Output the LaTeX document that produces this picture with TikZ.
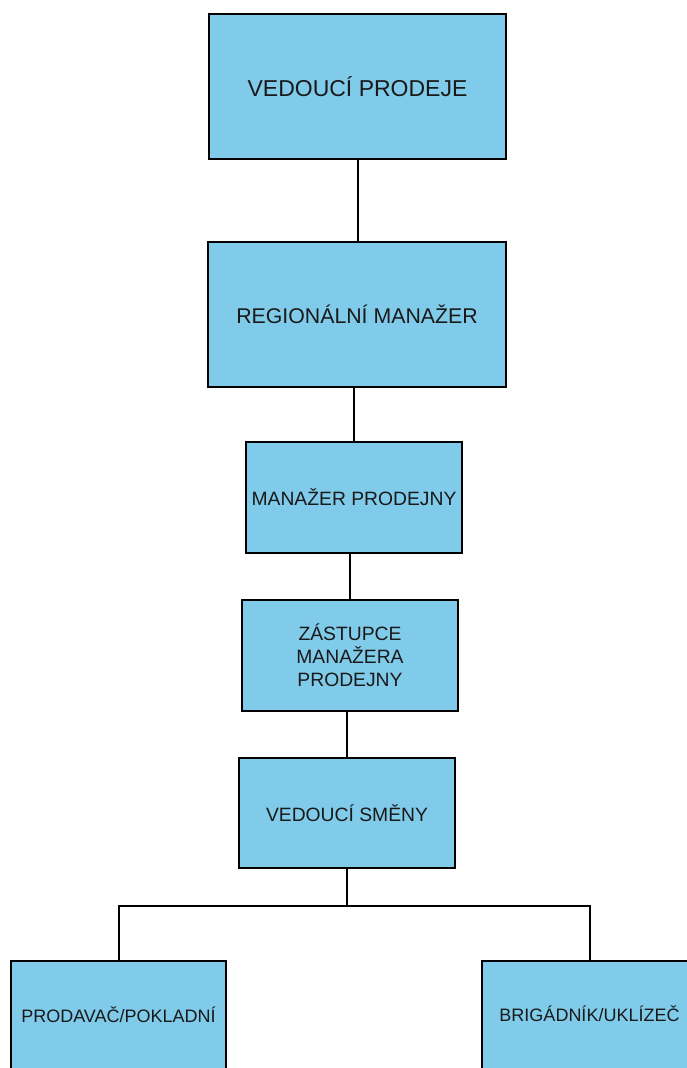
\documentclass[tikz,border=0pt]{standalone}
\usepackage{fontspec}
\setmainfont{Liberation Sans}
\definecolor{boxblue}{HTML}{80CBEA}
\begin{document}
\begin{tikzpicture}[x=1pt,y=-1pt,
  role/.style={draw=black, line width=2.4pt, fill=boxblue, inner sep=0pt,
    align=center, font=\fontsize{19.3}{23}\selectfont, text=black!90},
  label/.style={font=\fontsize{18}{21}\selectfont, text=black!90},
  link/.style={draw=black, line width=2pt}]
\useasboundingbox (0,0) rectangle (687,1068);
\clip (0,0) rectangle (687,1068);
% boxes, placed by their corners
\node[role, minimum width=297pt, minimum height=145pt, font=\fontsize{23}{27}\selectfont]
  (vp) at (357.5,86.5) {VEDOUCÍ PRODEJE};
\node[role, minimum width=298pt, minimum height=145pt, font=\fontsize{21.3}{25}\selectfont]
  (rm) at (357,314.5) {REGIONÁLNÍ MANAŽER};
\node[role, minimum width=216pt, minimum height=111pt] (mp) at (354,497.5) {MANAŽER PRODEJNY};
\node[role, minimum width=216pt, minimum height=111pt] (zm) at (350,655.5)
  {ZÁSTUPCE\\MANAŽERA\\PRODEJNY};
\node[role, minimum width=216pt, minimum height=110pt] (vs) at (347,813) {VEDOUCÍ SMĚNY};
\node[role, minimum width=215pt, minimum height=150pt] (pp) at (118.5,1036) {};
\node[label] (ppt) at (pp.center |- 0,1015) {PRODAVAČ/POKLADNÍ};
\node[role, minimum width=215pt, minimum height=150pt] (bu) at (589.5,1036) {};
\node[label] (but) at (bu.center |- 0,1014) {BRIGÁDNÍK/UKLÍZEČ};
% connectors
\draw[link] (vp.south) -- (vp.south |- rm.north);
\draw[link] (mp.north) -- (mp.north |- rm.south);
\draw[link] (zm.north) -- (zm.north |- mp.south);
\draw[link] (vs.north) -- (vs.north |- zm.south);
\coordinate (fork) at (347,906);
\draw[link] (vs.south) -- (fork);
\draw[link] (pp.north) -- (pp.north |- fork) -- (bu.north |- fork) -- (bu.north);
\end{tikzpicture}
\end{document}
